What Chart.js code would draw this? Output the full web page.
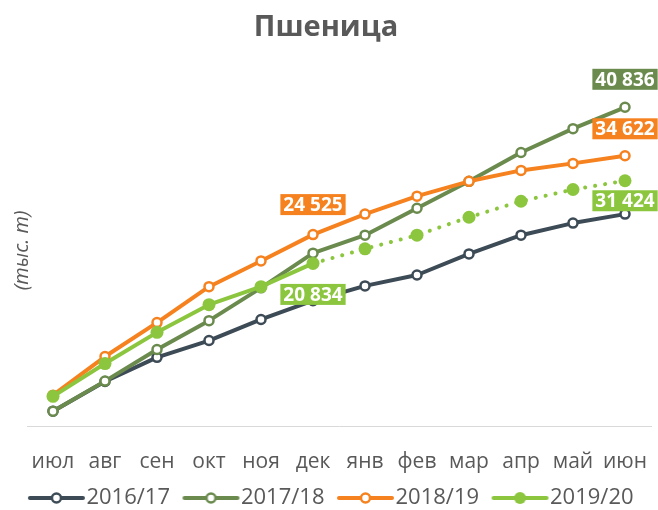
<!DOCTYPE html>
<html>
<head>
<meta charset="utf-8">
<script src="https://cdn.jsdelivr.net/npm/chart.js@4.4.1/dist/chart.umd.min.js"></script>
<style>
  html, body { margin: 0; padding: 0; background: #fff; }
  canvas { display: block; }
</style>
</head>
<body>
<canvas id="wheat" width="658" height="510"></canvas>
<script>
const months = ['июл', 'авг', 'сен', 'окт', 'ноя', 'дек', 'янв', 'фев', 'мар', 'апр', 'май', 'июн']
const seasons = ['2016/17', '2017/18', '2018/19', '2019/20']
const s1617 = [1900, 5700, 8800, 10950, 13650, 16050, 17950, 19350, 22050, 24450, 26000, 27150]
const s1718 = [1900, 5750, 9800, 13500, 17700, 22150, 24450, 27900, 31350, 35050, 38100, 40836]
const s1819 = [3950, 8900, 13250, 17850, 21150, 24525, 27150, 29450, 31350, 32750, 33650, 34622]
const s1920 = [3800, 8000, 12000, 15550, 17850, 20834, 22700, 24450, 26750, 28800, 30300, 31424]
// last month of actual data for 2019/20, the rest is a forecast (dotted)
const lastActual = 5

const colors = ['#3d4b56', '#6b8b4e', '#f5821f', '#8cc63f']
const gray = '#595959'
const font = 'Open Sans'

// which values get a coloured callout, and how far above/below the point
const callouts = [
    { ds: 1, i: 11, dy: -28 },
    { ds: 2, i: 11, dy: -27 },
    { ds: 3, i: 11, dy: 20 },
    { ds: 2, i: 5, dy: -30 },
    { ds: 3, i: 5, dy: 31 }
]

const fmt = v => String(v).replace(/\B(?=(\d{3})+(?!\d))/g, ' ')

// legend marker: line with a point, drawn a bit off centre so it sits next to the text
const legendIcon = (color, filled) => {
    const c = document.createElement('canvas')
    c.width = 100
    c.height = 16
    const g = c.getContext('2d')
    g.strokeStyle = color
    g.lineWidth = 4
    g.lineCap = 'round'
    g.beginPath()
    g.moveTo(33, 8)
    g.lineTo(86, 8)
    g.stroke()
    g.beginPath()
    if (filled) {
        g.arc(59.5, 8, 6, 0, Math.PI * 2)
        g.fillStyle = color
        g.fill()
    } else {
        g.arc(59.5, 8, 4.5, 0, Math.PI * 2)
        g.fillStyle = '#fff'
        g.fill()
        g.lineWidth = 2.5
        g.stroke()
    }
    return c
}
const icons = colors.map((c, i) => legendIcon(c, i === 3))

const hollow = (label, data, color, order) => ({
    label: label,
    data: data,
    borderColor: color,
    backgroundColor: color,
    borderWidth: 4,
    borderJoinStyle: 'round',
    pointRadius: 4.5,
    pointBorderWidth: 2.5,
    pointBackgroundColor: '#fff',
    pointBorderColor: color,
    tension: 0,
    order: order
})

const calloutPlugin = {
    id: 'callouts',
    afterDatasetsDraw(chart) {
        const c = chart.ctx
        c.save()
        c.font = 'bold 19px "' + font + '"'
        c.textAlign = 'center'
        c.textBaseline = 'middle'
        callouts.forEach(o => {
            const pt = chart.getDatasetMeta(o.ds).data[o.i]
            const text = fmt(chart.data.datasets[o.ds].data[o.i])
            const w = c.measureText(text).width + 6
            const h = 21
            let x = pt.x - w / 2
            if (x + w > chart.width) x = chart.width - w
            const y = pt.y + o.dy - h / 2
            c.fillStyle = colors[o.ds]
            c.fillRect(x, y, w, h)
            c.fillStyle = '#fff'
            c.fillText(text, x + w / 2, y + h / 2 + 1)
        })
        c.restore()
    }
}

const ctx = document.getElementById('wheat').getContext('2d')

new Chart(ctx, {
    type: 'line',
    data: {
        labels: months,
        datasets: [
            hollow(seasons[0], s1617, colors[0], 3),
            hollow(seasons[1], s1718, colors[1], 2),
            hollow(seasons[2], s1819, colors[2], 1),
            {
                label: seasons[3],
                data: s1920,
                borderColor: colors[3],
                backgroundColor: colors[3],
                borderWidth: 4,
                borderCapStyle: 'round',
                borderJoinStyle: 'round',
                pointRadius: 6.5,
                pointBorderWidth: 0,
                pointBackgroundColor: colors[3],
                tension: 0,
                order: 0,
                segment: {
                    borderDash: s => s.p0DataIndex >= lastActual ? [0.1, 10] : undefined
                }
            }
        ]
    },
    options: {
        responsive: false,
        animation: false,
        devicePixelRatio: 1,
        layout: { padding: { left: 0, right: 6, top: 0, bottom: -9 } },
        plugins: {
            title: {
                display: true,
                text: 'Пшеница',
                color: gray,
                font: { family: font, size: 29, weight: 'bold' },
                padding: { top: 10, bottom: 30 }
            },
            legend: {
                position: 'bottom',
                labels: {
                    usePointStyle: true,
                    pointStyleWidth: 57,
                    padding: 3,
                    color: gray,
                    font: { family: font, size: 22 },
                    generateLabels: chart => chart.data.datasets.map((ds, i) => ({
                        text: ds.label,
                        pointStyle: icons[i],
                        fontColor: gray,
                        fillStyle: 'transparent',
                        strokeStyle: 'transparent',
                        lineWidth: 0,
                        hidden: false,
                        datasetIndex: i
                    }))
                }
            },
            tooltip: { enabled: false }
        },
        scales: {
            x: {
                offset: true,
                grid: { display: false, drawTicks: false },
                border: { display: true, color: '#d9d9d9', width: 1 },
                ticks: {
                    color: gray,
                    font: { family: font, size: 21 },
                    padding: 23,
                    maxRotation: 0,
                    autoSkip: false
                },
                afterFit: scale => {
                    scale.height = 58
                    scale.paddingLeft = 0
                    scale.paddingRight = 0
                }
            },
            y: {
                min: 0,
                max: 45000,
                grid: { display: false, drawTicks: false },
                border: { display: false },
                ticks: { display: false },
                title: {
                    display: true,
                    text: '(тыс. т)',
                    color: gray,
                    font: { family: font, size: 20, style: 'italic' },
                    padding: { top: 10, bottom: 0 }
                },
                afterFit: scale => { scale.width = 27 }
            }
        }
    },
    plugins: [calloutPlugin]
})
</script>
</body>
</html>
